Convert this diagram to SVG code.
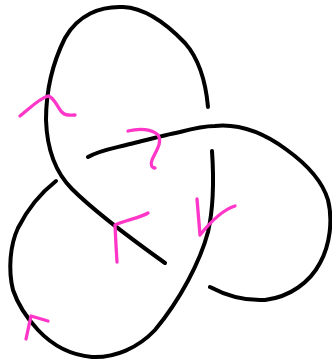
<svg xmlns="http://www.w3.org/2000/svg" width="332" height="360" viewBox="0 0 332 360">
<style>
.s{fill:none;stroke:#000;stroke-width:4;stroke-linecap:round;stroke-linejoin:round}
.m{fill:none;stroke:#ff36c8;stroke-width:3.3;stroke-linecap:round;stroke-linejoin:round}
</style>
<rect width="332" height="360" fill="#fff"/>
<g id="knot">
<path id="strandA" class="s" d="M208,107 C206,85 200,60 185,43 C165,22 145,8 123,7 C100,6 78,15 65,38 C55,58 46,85 46,120 C47,150 55,172 72,189 C90,207 130,238 165,263"/>
<path id="strandB" class="s" d="M88,157 C100,150 115,148 130,144 C150,139 165,135 180,132 C195,128 205,126 215,126 C235,124 260,130 287,150 C305,163 322,180 328,200 C333,220 330,245 320,263 C310,282 290,297 265,300 C245,301 225,295 210,287"/>
<path id="strandC" class="s" d="M212,151 C214,180 213,210 208,232 C200,262 180,300 155,330 C138,348 115,358 92,357 C70,355 52,345 38,330 C25,316 18,305 13,290 C8,270 10,245 18,228 C28,208 42,192 56,181"/>
</g>
<g id="marks">
<path class="m" d="M20,116 C30,108 40,98 48,96 C55,97 58,110 63,113 C66,116 70,115 75,115"/>
<path class="m" d="M128,131 C140,128 152,129 158,135 C163,143 155,152 152,160 C150,165 152,168 155,168"/>
<path class="m" d="M117,262 L116,245 L115,225 C125,220 140,218 148,213"/>
<path class="m" d="M197,199 L200,235 C208,225 222,210 235,206"/>
<path class="m" d="M26,339 L31,316 L48,321"/>
</g>
</svg>
